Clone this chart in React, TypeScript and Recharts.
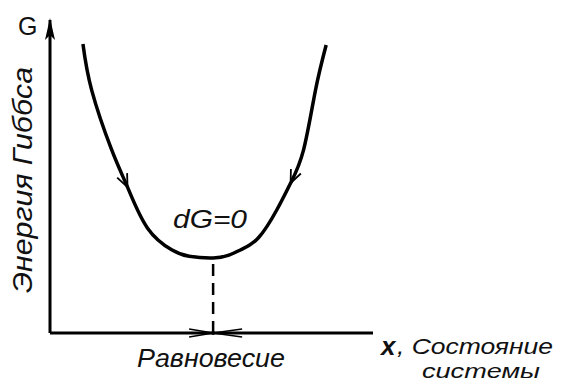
import React from 'react';
import {
  LineChart,
  Line,
  XAxis,
  YAxis,
  ReferenceLine,
  ReferenceDot,
  Customized,
} from 'recharts';

// state of the system (x) and Gibbs energy (G)
const stateX = [10.2, 12.9, 19.1, 24.0, 30.2, 37.8, 43.1, 50.5, 55.4, 59.5, 64.6, 70.2, 74.5, 78.5, 82.2, 85.5];
const gibbsG = [92.3, 77.6, 58.5, 46.6, 33.5, 26.5, 24.5, 24.0, 24.9, 26.8, 30.5, 39.3, 47.9, 58.5, 77.6, 92.0];
const arrowAt = [3, 12];

const data = stateX.map((x, i) => ({ x, g: gibbsG[i] }));

const minIndex = gibbsG.indexOf(Math.min(...gibbsG));
const eqX = stateX[minIndex];
const eqG = gibbsG[minIndex];

const font = '"Liberation Sans", Arial, Helvetica, sans-serif';

const CurveArrow = (props: any) => {
  const { cx, cy, index, points } = props;
  if (!arrowAt.includes(index) || !points) return <g key={`d-${index}`} />;
  const a = points[index - 1];
  const b = points[index + 1];
  let dx = b.x - a.x;
  let dy = b.y - a.y;
  if (dy < 0) {
    dx = -dx;
    dy = -dy;
  }
  const len = Math.hypot(dx, dy);
  const ux = dx / len;
  const uy = dy / len;
  const size = 14;
  const spread = 0.4;
  const p1 = {
    x: cx - size * (ux * Math.cos(spread) - uy * Math.sin(spread)),
    y: cy - size * (uy * Math.cos(spread) + ux * Math.sin(spread)),
  };
  const p2 = {
    x: cx - size * (ux * Math.cos(-spread) - uy * Math.sin(-spread)),
    y: cy - size * (uy * Math.cos(-spread) + ux * Math.sin(-spread)),
  };
  return (
    <path
      key={`d-${index}`}
      d={`M${p1.x},${p1.y} L${cx},${cy} L${p2.x},${p2.y}`}
      fill="none"
      stroke="#000"
      strokeWidth={1.8}
    />
  );
};

const AxisHead = (props: any) => {
  const { cx, cy } = props;
  return <path d={`M${cx},${cy - 2} L${cx - 5},${cy + 20} L${cx},${cy + 15} L${cx + 5},${cy + 20} Z`} fill="#000" />;
};

const EquilibriumArrows = (props: any) => {
  const { cx, cy } = props;
  return (
    <g fill="none" stroke="#000" strokeWidth={1.5}>
      <path d={`M${cx - 24},${cy - 4} L${cx},${cy} L${cx - 24},${cy + 4}`} />
      <path d={`M${cx + 29},${cy - 4} L${cx},${cy} L${cx + 29},${cy + 4}`} />
      <circle cx={cx} cy={cy} r={2} fill="#000" stroke="none" />
    </g>
  );
};

const Labels = () => (
  <g fontFamily={font} fill="#111">
    <text x={18} y={35} fontSize={25}>G</text>
    <text
      x={32}
      y={180}
      fontSize={27}
      fontStyle="italic"
      textAnchor="middle"
      textLength={226}
      lengthAdjust="spacingAndGlyphs"
      transform="rotate(-90 32 180)"
    >
      Энергия Гиббса
    </text>
    <text x={173} y={228} fontSize={26} fontStyle="italic" textLength={74} lengthAdjust="spacingAndGlyphs">
      dG=0
    </text>
    <text x={137} y={367} fontSize={26} fontStyle="italic" textLength={148} lengthAdjust="spacingAndGlyphs">
      Равновесие
    </text>
    <text x={381} y={355} fontSize={26} fontStyle="italic" fontWeight="bold">x</text>
    <text x={397} y={354} fontSize={22} fontStyle="italic" textLength={156} lengthAdjust="spacingAndGlyphs">
      , Состояние
    </text>
    <text x={422} y={378} fontSize={21} fontStyle="italic" textLength={118} lengthAdjust="spacingAndGlyphs">
      системы
    </text>
  </g>
);

export default function App() {
  return (
    <div style={{ position: 'absolute', left: 0, top: 0, background: '#fff' }}>
      <LineChart width={561} height={383} data={data} margin={{ top: 20, right: 188, bottom: 50, left: 50 }}>
        <XAxis type="number" dataKey="x" domain={[0, 100]} hide />
        <YAxis type="number" domain={[0, 100]} hide />
        <ReferenceLine x={0} stroke="#000" strokeWidth={3} />
        <ReferenceLine y={0} stroke="#000" strokeWidth={3} />
        <ReferenceLine
          segment={[{ x: eqX, y: 0 }, { x: eqX, y: eqG }]}
          stroke="#000"
          strokeWidth={2.5}
          strokeDasharray="12 7"
        />
        <ReferenceDot x={0} y={100} r={0} shape={AxisHead} ifOverflow="visible" />
        <ReferenceDot x={eqX} y={0} r={0} shape={EquilibriumArrows} ifOverflow="visible" />
        <Line
          type="natural"
          dataKey="g"
          stroke="#000"
          strokeWidth={3.5}
          dot={CurveArrow}
          activeDot={false}
          isAnimationActive={false}
        />
        <Customized component={Labels} />
      </LineChart>
    </div>
  );
}
